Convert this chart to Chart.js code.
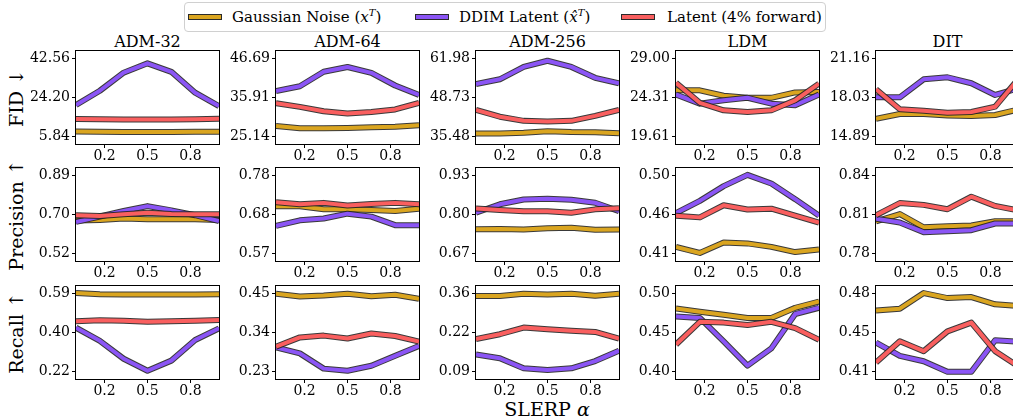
<!DOCTYPE html>
<html>
<head>
<meta charset="utf-8">
<script src="https://cdn.jsdelivr.net/npm/chart.js@4"></script>
<style>
  html, body { margin: 0; padding: 0; overflow: hidden; background: #fff; }
  #fig { position: relative; width: 1013px; height: 419px; overflow: hidden; font-family: 'DejaVu Serif', serif; color: #000; }
  #fig canvas { position: absolute; }
  .title { position: absolute; width: 143px; top: 32px; font-size: 16px; line-height: 20px; text-align: center; }
  .ylab { position: absolute; width: 140px; height: 24px; line-height: 24px; font-size: 19px; text-align: center; white-space: nowrap; transform: rotate(-90deg); }
  .xlab { position: absolute; left: 447px; top: 397px; width: 200px; line-height: 24px; font-size: 19px; text-align: center; }
  .legend { position: absolute; left: 184px; top: 2px; width: 640px; height: 28px; border: 1px solid #d0d0d0; border-radius: 4px; background: #fff; }
  .item { position: absolute; top: 4px; font-size: 15px; line-height: 20px; white-space: nowrap; }
  .swatch { position: absolute; top: 11px; width: 32px; height: 4px; border: 1px solid #2a2a2a; }
  sup { font-size: 10px; vertical-align: 6px; line-height: 0; }
</style>
</head>
<body>
<div id="fig">
  <div class="legend">
    <div class="swatch" style="left:3px;background:#DAA520"></div>
    <div class="item" style="left:47px">Gaussian Noise (<i>x</i><sup><i>T</i></sup>)</div>
    <div class="swatch" style="left:230px;background:#8B55F5"></div>
    <div class="item" style="left:274px">DDIM Latent (<i>x̂</i><sup><i>T</i></sup>)</div>
    <div class="swatch" style="left:436px;background:#F95F5F"></div>
    <div class="item" style="left:482px">Latent (4% forward)</div>
  </div>
  <div class="xlab">SLERP <i>α</i></div>
</div>
<script>
// Column titles and row labels
const models = ['ADM-32', 'ADM-64', 'ADM-256', 'LDM', 'DIT'];
const metrics = ['FID ↓', 'Precision ↑', 'Recall ↑'];

// SLERP alpha positions (7 samples) and x ticks
const alphas = [0, 0.1667, 0.3333, 0.5, 0.6667, 0.8333, 1];
const xTicks = [0.2, 0.5, 0.8];

// FID, one row per model
const fidGaussian = [
  [8.3, 8.2, 8.1, 8.1, 8.1, 8.2, 8.2],
  [28.1, 27.5, 27.5, 27.6, 27.8, 27.9, 28.3],
  [36.6, 36.6, 36.9, 37.4, 37.1, 37.0, 36.7],
  [25.2, 25.2, 24.55, 24.3, 24.3, 24.95, 25.0],
  [16.34, 16.72, 16.72, 16.61, 16.56, 16.64, 17.1]
];
const fidDDIM = [
  [20.8, 27.5, 36.0, 40.4, 36.4, 26.6, 20.3],
  [37.8, 39.1, 43.1, 44.4, 42.8, 39.3, 36.7],
  [53.4, 55.0, 59.2, 61.3, 59.2, 55.5, 53.6],
  [24.7, 23.6, 24.0, 24.3, 23.6, 23.4, 24.7],
  [18.06, 18.06, 19.51, 19.67, 19.19, 18.25, 18.8]
];
const fidLatent = [
  [14.2, 14.1, 14.0, 14.0, 14.0, 14.1, 14.3],
  [34.4, 33.4, 32.2, 31.6, 32.0, 32.7, 34.5],
  [44.6, 42.3, 40.9, 40.7, 40.9, 42.6, 44.6],
  [26.1, 23.7, 22.8, 22.6, 22.8, 24.0, 26.0],
  [18.71, 17.10, 16.99, 16.82, 16.88, 17.31, 19.6]
];

// Precision
const precGaussian = [
  [0.678, 0.680, 0.687, 0.684, 0.684, 0.684, 0.680],
  [0.698, 0.698, 0.690, 0.690, 0.688, 0.685, 0.691],
  [0.752, 0.753, 0.751, 0.755, 0.757, 0.750, 0.751],
  [0.418, 0.411, 0.423, 0.422, 0.418, 0.412, 0.415],
  [0.8049, 0.8105, 0.8004, 0.8011, 0.8017, 0.805, 0.805]
];
const precDDIM = [
  [0.671, 0.697, 0.723, 0.746, 0.726, 0.703, 0.675],
  [0.645, 0.660, 0.665, 0.678, 0.670, 0.647, 0.647],
  [0.807, 0.835, 0.851, 0.853, 0.850, 0.840, 0.812],
  [0.457, 0.471, 0.488, 0.501, 0.491, 0.473, 0.454],
  [0.807, 0.804, 0.7966, 0.7974, 0.7982, 0.8033, 0.8033]
];
const precLatent = [
  [0.703, 0.699, 0.707, 0.715, 0.709, 0.707, 0.707],
  [0.709, 0.703, 0.707, 0.700, 0.704, 0.707, 0.703],
  [0.821, 0.816, 0.812, 0.812, 0.807, 0.818, 0.822],
  [0.454, 0.452, 0.466, 0.461, 0.462, 0.454, 0.446],
  [0.8096, 0.819, 0.8176, 0.8143, 0.8239, 0.8168, 0.8133]
];

// Recall
const recGaussian = [
  [0.594, 0.588, 0.586, 0.586, 0.586, 0.586, 0.588],
  [0.450, 0.442, 0.445, 0.450, 0.443, 0.447, 0.436],
  [0.352, 0.352, 0.360, 0.357, 0.360, 0.353, 0.360],
  [0.481, 0.477, 0.473, 0.469, 0.469, 0.482, 0.490],
  [0.465, 0.4666, 0.4806, 0.4761, 0.477, 0.4705, 0.469]
];
const recDDIM = [
  [0.429, 0.367, 0.282, 0.225, 0.273, 0.371, 0.426],
  [0.299, 0.282, 0.239, 0.233, 0.247, 0.275, 0.303],
  [0.150, 0.137, 0.102, 0.096, 0.102, 0.127, 0.163],
  [0.471, 0.469, 0.439, 0.408, 0.430, 0.474, 0.482],
  [0.4362, 0.4243, 0.4195, 0.41, 0.41, 0.4383, 0.437]
];
const recLatent = [
  [0.460, 0.464, 0.462, 0.457, 0.460, 0.462, 0.465],
  [0.301, 0.327, 0.332, 0.324, 0.338, 0.331, 0.315],
  [0.203, 0.220, 0.243, 0.237, 0.232, 0.228, 0.205],
  [0.435, 0.464, 0.463, 0.460, 0.464, 0.456, 0.441],
  [0.4183, 0.4374, 0.4285, 0.4463, 0.4541, 0.4285, 0.4145]
];

// y tick values and their printed labels, per row then per model
const fidTicks = [[5.84, 24.20, 42.56], [25.14, 35.91, 46.69], [35.48, 48.73, 61.98], [19.61, 24.31, 29.00], [14.89, 18.03, 21.16]];
const fidTickLabels = [['5.84', '24.20', '42.56'], ['25.14', '35.91', '46.69'], ['35.48', '48.73', '61.98'], ['19.61', '24.31', '29.00'], ['14.89', '18.03', '21.16']];
const precTicks = [[0.52, 0.705, 0.89], [0.57, 0.675, 0.78], [0.67, 0.80, 0.93], [0.41, 0.455, 0.50], [0.78, 0.81, 0.84]];
const precTickLabels = [['0.52', '0.70', '0.89'], ['0.57', '0.68', '0.78'], ['0.67', '0.80', '0.93'], ['0.41', '0.46', '0.50'], ['0.78', '0.81', '0.84']];
const recTicks = [[0.22, 0.405, 0.59], [0.23, 0.34, 0.45], [0.09, 0.225, 0.36], [0.40, 0.45, 0.50], [0.41, 0.445, 0.48]];
const recTickLabels = [['0.22', '0.40', '0.59'], ['0.23', '0.34', '0.45'], ['0.09', '0.22', '0.36'], ['0.40', '0.45', '0.50'], ['0.41', '0.45', '0.48']];

const rows = [
  { series: [fidGaussian, fidDDIM, fidLatent], ticks: fidTicks, labels: fidTickLabels },
  { series: [precGaussian, precDDIM, precLatent], ticks: precTicks, labels: precTickLabels },
  { series: [recGaussian, recDDIM, recLatent], ticks: recTicks, labels: recTickLabels }
];
const colors = ['#DAA520', '#8B55F5', '#F95F5F'];
const outline = 'rgba(35,35,35,0.9)';

// layout of the grid (plot areas)
const plotLeft = [76, 276, 476, 676, 876];
const plotTop = [51, 168, 286];
const plotW = 143, plotH = 93;
const axisW = 70, axisH = 26, padTop = 2, padRight = 10;
const tickFont = { family: 'DejaVu Serif', size: 14 };

// box around each axes, drawn over the lines like matplotlib spines
const frame = {
  id: 'frame',
  afterDatasetsDraw(chart) {
    const { ctx, chartArea: a } = chart;
    ctx.save();
    ctx.strokeStyle = '#000';
    ctx.lineWidth = 1;
    ctx.strokeRect(a.left - 0.5, a.top - 0.5, a.right - a.left + 1, a.bottom - a.top + 1);
    ctx.restore();
  }
};

const fig = document.getElementById('fig');

// titles and row labels
models.forEach((m, c) => {
  const d = document.createElement('div');
  d.className = 'title';
  d.style.left = plotLeft[c] + 'px';
  d.textContent = m;
  fig.appendChild(d);
});
metrics.forEach((m, r) => {
  const d = document.createElement('div');
  d.className = 'ylab';
  d.style.left = (16 - 70) + 'px';
  d.style.top = (plotTop[r] + plotH / 2 - 12) + 'px';
  d.textContent = m;
  fig.appendChild(d);
});

function makePanel(r, c) {
  const row = rows[r];
  const tv = row.ticks[c];
  const tl = row.labels[c];
  const span = tv[2] - tv[0];

  const canvas = document.createElement('canvas');
  canvas.width = axisW + plotW + padRight;
  canvas.height = padTop + plotH + axisH;
  canvas.style.left = (plotLeft[c] - axisW) + 'px';
  canvas.style.top = (plotTop[r] - padTop) + 'px';
  fig.appendChild(canvas);

  const datasets = [];
  row.series.forEach((s, k) => {
    const pts = alphas.map((a, i) => ({ x: a, y: s[c][i] }));
    // later series on top: lower order is drawn last
    const base = (2 - k) * 2;
    datasets.push({ data: pts, borderColor: colors[k], borderWidth: 4, order: base, pointRadius: 0, tension: 0, clip: 0, borderJoinStyle: 'round' });
    datasets.push({ data: pts, borderColor: outline, borderWidth: 6, order: base + 1, pointRadius: 0, tension: 0, clip: 0, borderJoinStyle: 'round' });
  });

  new Chart(canvas, {
    type: 'line',
    data: { datasets },
    plugins: [frame],
    options: {
      responsive: false,
      animation: false,
      devicePixelRatio: 1,
      layout: { padding: { top: padTop, right: padRight, left: 0, bottom: 0 } },
      plugins: { legend: { display: false }, tooltip: { enabled: false } },
      scales: {
        x: {
          type: 'linear', min: 0, max: 1,
          afterBuildTicks: s => { s.ticks = xTicks.map(v => ({ value: v })); },
          afterFit: s => { s.height = axisH; s.paddingLeft = 0; s.paddingRight = 0; },
          ticks: { callback: v => v.toFixed(1), font: tickFont, color: '#000', padding: 0, maxRotation: 0, autoSkip: false },
          grid: { drawOnChartArea: false, tickLength: 4, color: '#000' },
          border: { display: false }
        },
        y: {
          type: 'linear',
          min: tv[0] - 0.092 * span,
          max: tv[2] + 0.099 * span,
          afterBuildTicks: s => { s.ticks = tv.map(v => ({ value: v })); },
          afterFit: s => { s.width = axisW; s.paddingTop = 0; s.paddingBottom = 0; },
          ticks: { callback: (v, i) => tl[i], font: tickFont, color: '#000', padding: 2, autoSkip: false },
          grid: { drawOnChartArea: false, tickLength: 4, color: '#000' },
          border: { display: false }
        }
      }
    }
  });
}

for (let r = 0; r < 3; r++) {
  for (let c = 0; c < 5; c++) makePanel(r, c);
}
</script>
</body>
</html>
